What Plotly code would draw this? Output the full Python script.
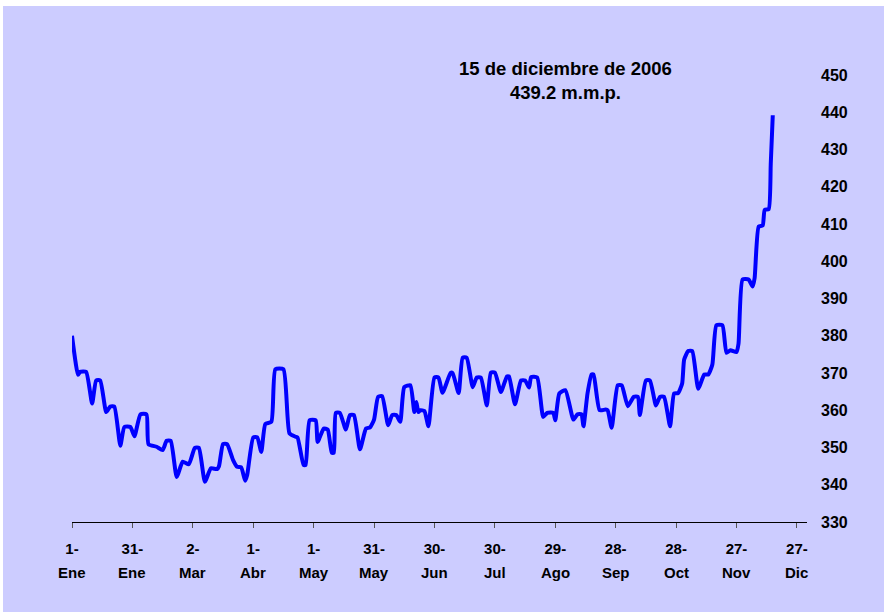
import plotly.graph_objects as go

# Daily reserve level 2006, millones de m.p.
dates = [
    "2006-01-01","2006-01-04","2006-01-05","2006-01-08","2006-01-11","2006-01-13","2006-01-15","2006-01-18",
    "2006-01-20","2006-01-22","2006-01-25","2006-01-27","2006-01-30","2006-02-01","2006-02-04","2006-02-07",
    "2006-02-08","2006-02-12","2006-02-15","2006-02-17","2006-02-19","2006-02-22","2006-02-25","2006-02-28",
    "2006-03-03","2006-03-05","2006-03-08","2006-03-11","2006-03-14","2006-03-15","2006-03-17","2006-03-19",
    "2006-03-22","2006-03-24","2006-03-26","2006-03-28","2006-03-29","2006-04-01","2006-04-03","2006-04-05",
    "2006-04-07","2006-04-10","2006-04-12","2006-04-16","2006-04-19","2006-04-22","2006-04-23","2006-04-26",
    "2006-04-27","2006-04-29","2006-05-02","2006-05-03","2006-05-06","2006-05-08","2006-05-10","2006-05-11",
    "2006-05-12","2006-05-14","2006-05-17","2006-05-19","2006-05-21","2006-05-24","2006-05-27","2006-05-29",
    "2006-05-31","2006-06-02","2006-06-04","2006-06-07","2006-06-09","2006-06-11","2006-06-13","2006-06-15",
    "2006-06-18","2006-06-20","2006-06-21","2006-06-22","2006-06-23","2006-06-25","2006-06-27","2006-06-30",
    "2006-07-02","2006-07-04","2006-07-08","2006-07-09","2006-07-12","2006-07-14","2006-07-16","2006-07-19",
    "2006-07-21","2006-07-23","2006-07-26","2006-07-28","2006-07-30","2006-08-02","2006-08-05","2006-08-06",
    "2006-08-09","2006-08-12","2006-08-14","2006-08-16","2006-08-17","2006-08-20","2006-08-23","2006-08-25",
    "2006-08-28","2006-08-29","2006-08-31","2006-09-03","2006-09-07","2006-09-09","2006-09-11","2006-09-12",
    "2006-09-14","2006-09-16","2006-09-17","2006-09-20","2006-09-23","2006-09-24","2006-09-26","2006-09-29",
    "2006-10-01","2006-10-04","2006-10-07","2006-10-09","2006-10-10","2006-10-13","2006-10-15","2006-10-18",
    "2006-10-20","2006-10-22","2006-10-25","2006-10-27","2006-10-29","2006-10-31","2006-11-01","2006-11-03",
    "2006-11-05","2006-11-08","2006-11-11","2006-11-13","2006-11-15","2006-11-17","2006-11-20","2006-11-22",
    "2006-11-24","2006-11-27","2006-11-28","2006-11-30","2006-12-03","2006-12-05","2006-12-06","2006-12-08",
    "2006-12-10","2006-12-11","2006-12-13","2006-12-14","2006-12-15",
]
values = [
    380.0, 369.5, 370.3, 370.3, 361.8, 368.0, 368.0, 359.5,
    361.0, 361.0, 350.5, 355.5, 355.5, 353.0, 358.9, 358.9,
    350.9, 350.2, 349.3, 351.8, 351.8, 342.1, 346.2, 345.5,
    349.9, 349.9, 340.8, 344.4, 344.2, 345.0, 350.9, 350.9,
    346.6, 344.8, 344.7, 341.1, 342.6, 352.7, 352.7, 348.8,
    356.3, 356.9, 371.0, 371.0, 353.8, 352.9, 352.7, 345.3,
    345.3, 357.3, 357.3, 351.5, 355.1, 354.8, 348.6, 348.6,
    359.3, 359.3, 354.8, 358.7, 358.7, 349.5, 355.1, 355.4,
    357.5, 363.6, 363.8, 356.0, 358.7, 358.7, 356.9, 366.2,
    366.7, 359.5, 362.2, 359.5, 360.0, 359.8, 355.7, 368.8,
    368.8, 364.7, 370.0, 370.0, 364.6, 374.1, 374.1, 366.2,
    368.8, 368.8, 361.3, 370.1, 370.1, 364.9, 369.1, 369.1,
    361.6, 368.0, 368.0, 366.1, 368.9, 368.8, 358.2, 359.3,
    359.3, 357.3, 364.5, 365.4, 357.5, 358.9, 358.9, 355.7,
    364.5, 369.6, 369.6, 360.0, 360.2, 360.0, 355.3, 366.7,
    366.7, 361.1, 363.6, 363.6, 358.7, 368.0, 368.0, 361.3,
    363.6, 363.6, 355.7, 364.5, 364.6, 367.2, 373.6, 375.9,
    375.9, 365.8, 369.6, 369.6, 372.3, 382.8, 382.8, 375.4,
    376.1, 375.6, 377.9, 395.1, 395.1, 393.2, 395.5, 409.3,
    409.6, 413.8, 414.0, 426.1, 439.2,
]

tick_dates = ["2006-01-01","2006-01-31","2006-03-02","2006-04-01","2006-05-01","2006-05-31",
              "2006-06-30","2006-07-30","2006-08-29","2006-09-28","2006-10-28","2006-11-27","2006-12-27"]
tick_days = ["1-","31-","2-","1-","1-","31-","30-","30-","29-","28-","28-","27-","27-"]
tick_months = ["Ene","Ene","Mar","Abr","May","May","Jun","Jul","Ago","Sep","Oct","Nov","Dic"]
y_ticks = [330, 340, 350, 360, 370, 380, 390, 400, 410, 420, 430, 440, 450]

annot_text = "15 de diciembre de 2006<br>439.2 m.m.p."

BG = "#CCCCFF"
FONT = "Liberation Sans, Arial, sans-serif"
W, H = 887, 615
L, R, T, B = 72, 80, 75, 93
pw, ph = W - L - R, H - T - B

fig = go.Figure()
fig.add_trace(go.Scatter(x=dates, y=values, mode="lines",
                         line=dict(color="#0000FF", width=4, shape="spline", smoothing=0.5),
                         showlegend=False, hoverinfo="x+y"))

xrange = ["2006-01-01", "2007-01-01"]
lbl_font = dict(size=15, family=FONT, color="black", weight="bold")

annotations = [dict(text=annot_text, xref="paper", yref="paper",
                    x=(565 - L) / pw, y=(H - B - 81) / ph, showarrow=False,
                    xanchor="center", yanchor="middle", align="center",
                    font=dict(size=18.5, family=FONT, color="black", weight="bold"))]
for d, m in zip(tick_dates, tick_months):
    annotations.append(dict(text=m, x=d, xref="x", yref="paper", y=(H - B - 572) / ph,
                            showarrow=False, xanchor="center", yanchor="middle",
                            font=lbl_font))

fig.update_layout(
    width=W, height=H,
    margin=dict(l=L, r=R, t=T, b=B, autoexpand=False),
    paper_bgcolor="white",
    plot_bgcolor=BG,
    font=dict(family=FONT, color="black"),
    xaxis=dict(range=xrange, tickvals=tick_dates, ticktext=tick_days,
               showgrid=False, zeroline=False, showline=True, linecolor="black", linewidth=1,
               ticks="outside", ticklen=5, tickcolor="#555555", tickwidth=1,
               tickfont=lbl_font, ticklabelstandoff=8, tickangle=0, automargin=False),
    yaxis=dict(range=[330, 450], side="right", tickvals=y_ticks,
               showgrid=False, zeroline=False, showline=False, ticks="",
               tickfont=dict(size=16, family=FONT, color="black", weight="bold"),
               ticklabelstandoff=13, automargin=False),
    shapes=[dict(type="rect", xref="paper", yref="paper", layer="below",
                 x0=(3 - L) / pw, x1=(884 - L) / pw,
                 y0=(H - B - 612) / ph, y1=(H - B - 6) / ph,
                 fillcolor=BG, line=dict(width=0))],
    annotations=annotations,
)

fig.write_html("out.html", config={"displayModeBar": False},
               post_script="document.body.style.margin='0';document.body.style.overflow='hidden';")
